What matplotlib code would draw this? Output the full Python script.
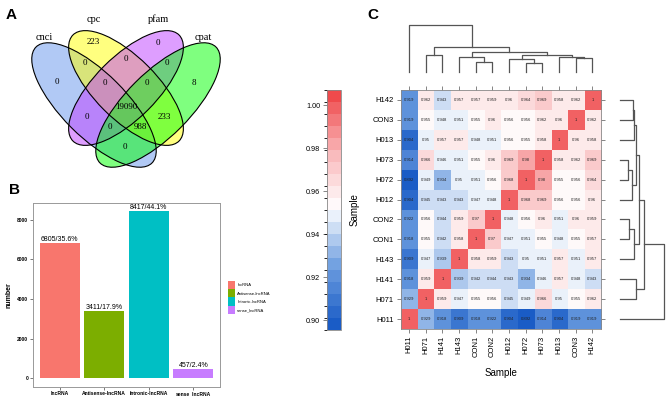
import numpy as np
import matplotlib
matplotlib.use("Agg")
import matplotlib.pyplot as plt
from matplotlib.patches import Ellipse, Patch
from matplotlib.colors import LinearSegmentedColormap, BoundaryNorm

# ---------------- data ----------------
# A: venn
set_names = ["cnci", "cpc", "pfam", "cpat"]
set_colors = ["#6495ED", "#FFFF00", "#BF3EFF", "#00FF00"]
venn_counts = {
    "cnci": 0, "cpc": 223, "pfam": 0, "cpat": 8,
    "cnci&cpc": 0, "cpc&pfam": 0, "pfam&cpat": 0,
    "cnci&cpc&pfam": 0, "cpc&pfam&cpat": 0, "all": 19090,
    "cnci&pfam": 0, "cpc&cpat": 233,
    "cnci&pfam&cpat": 0, "cnci&cpc&cpat": 988, "cnci&cpat": 0,
}

# B: lncRNA classes
classes = ["lncRNA", "Antisense-lncRNA", "Intronic-lncRNA", "sense_lncRNA"]
class_counts = [6805, 3411, 8417, 457]
class_pct = [35.6, 17.9, 44.1, 2.4]
class_colors = ["#F8766D", "#7CAE00", "#00BFC4", "#C77CFF"]

# C: correlation matrix (order of the clustered leaves)
samples = ["H011", "H071", "H141", "H143", "CON1", "CON2",
           "H012", "H072", "H073", "H013", "CON3", "H142"]
corr = [
    [1, .929, .918, .909, .918, .922, .904, .892, .914, .904, .919, .919],
    [.929, 1, .959, .947, .955, .956, .945, .949, .966, .95, .955, .962],
    [.918, .959, 1, .939, .942, .944, .943, .934, .946, .957, .948, .943],
    [.909, .947, .939, 1, .958, .959, .943, .95, .951, .957, .951, .957],
    [.918, .955, .942, .958, 1, .97, .947, .951, .955, .948, .955, .957],
    [.922, .956, .944, .959, .97, 1, .948, .956, .96, .951, .96, .959],
    [.904, .945, .943, .943, .947, .948, 1, .968, .969, .956, .956, .96],
    [.892, .949, .934, .95, .951, .956, .968, 1, .98, .955, .956, .964],
    [.914, .966, .946, .951, .955, .96, .969, .98, 1, .958, .962, .969],
    [.904, .95, .957, .957, .948, .951, .956, .955, .958, 1, .96, .958],
    [.919, .955, .948, .951, .955, .96, .956, .956, .962, .96, 1, .962],
    [.919, .962, .943, .957, .957, .959, .96, .964, .969, .958, .962, 1],
]
# merges (left id, right id, relative height), new ids start at 12
merges = [
    (4, 5, 0.21), (7, 8, 0.19), (10, 11, 0.29), (6, 13, 0.27),
    (9, 14, 0.32), (3, 12, 0.32), (1, 2, 0.36), (15, 16, 0.37),
    (17, 19, 0.43), (18, 20, 0.54), (0, 21, 1.0),
]

W, H = 669, 396
fig = plt.figure(figsize=(W / 100, H / 100), dpi=100)


def px_axes(x0, y0, x1, y1):
    return fig.add_axes([x0 / W, 1 - y1 / H, (x1 - x0) / W, (y1 - y0) / H])


# ---------------- A: venn (axes in figure pixels, y downwards) ----------------
ax = px_axes(0, 0, 250, 200)
ax.set_xlim(0, 250)
ax.set_ylim(200, 0)
ell_center = [(94, 105), (126, 88), (126, 88), (158, 105)]
ell_size = [(164, 64), (150, 62), (150, 62), (164, 64)]
ell_angle = [45, 45, -45, -45]
for c, s, a, col in zip(ell_center, ell_size, ell_angle, set_colors):
    ax.add_patch(Ellipse(c, s[0], s[1], angle=a, facecolor=col, alpha=0.5, lw=0))
for c, s, a in zip(ell_center, ell_size, ell_angle):
    ax.add_patch(Ellipse(c, s[0], s[1], angle=a, facecolor="none", edgecolor="black", lw=0.8))
label_pos = {
    "cnci": (57, 82), "cpc": (93, 42), "pfam": (158, 43), "cpat": (194, 83),
    "cnci&cpc": (85, 63), "cpc&pfam": (126, 59), "pfam&cpat": (167, 63),
    "cnci&cpc&pfam": (105, 83), "cpc&pfam&cpat": (147, 83), "all": (126, 107),
    "cnci&pfam": (87, 117), "cpc&cpat": (164, 117),
    "cnci&pfam&cpat": (110, 127), "cnci&cpc&cpat": (140, 127), "cnci&cpat": (125, 147),
}
for k, v in venn_counts.items():
    x, y = label_pos[k]
    ax.text(x, y, str(v), ha="center", va="center", fontsize=6.5, family="Liberation Serif")
name_pos = [(44, 38), (94, 19), (158, 19), (203, 38)]
for nm, (x, y) in zip(set_names, name_pos):
    ax.text(x, y, nm, ha="center", va="center", fontsize=7.5, family="Liberation Serif")
ax.axis("off")

# ---------------- B: bars ----------------
ax = px_axes(33, 203, 220, 386.6)
xs = np.arange(len(classes))
ax.bar(xs, class_counts, width=0.9, color=class_colors)
for x, v, p in zip(xs, class_counts, class_pct):
    ax.text(x, v, f"{v}/{p}%", ha="center", va="bottom", fontsize=5, family="Liberation Sans")
ax.set_xlim(-0.6, 3.6)
ax.set_ylim(-421, 8838)
ax.set_xticks(xs)
ax.set_xticklabels(classes, fontsize=3.6, fontweight="bold", family="Liberation Sans")
ax.set_yticks([0, 2000, 4000, 6000, 8000])
ax.set_yticklabels(["0", "2000", "4000", "6000", "8000"], fontsize=3.5,
                   fontweight="bold", family="Liberation Sans")
ax.tick_params(length=2, width=0.5, color="#444444", pad=1.5)
ax.set_ylabel("number", fontsize=5, fontweight="bold", family="Liberation Sans", labelpad=3)
for s in ax.spines.values():
    s.set_color("#999999")
    s.set_linewidth(0.7)
handles = [Patch(facecolor=c) for c in class_colors]
fig.legend(handles, classes, loc="upper left", bbox_to_anchor=(226 / W, 1 - 279 / H),
           prop={"family": "Liberation Sans", "size": 3}, frameon=False,
           handlelength=1.7, handleheight=2.65, labelspacing=0, borderpad=0,
           handletextpad=0.5)

# ---------------- C: heatmap ----------------
vmin, vmax = 0.8955, 1.007
mid = (0.952 - vmin) / (vmax - vmin)
cmap = LinearSegmentedColormap.from_list(
    "bwr2", [(0, "#1A5CC6"), (mid * 0.5, "#6E9EE0"), (mid, "#FFFFFF"),
             ((1 + mid) / 2, "#F9B5B7"), (1, "#EF4A4C")])
bounds = np.linspace(vmin, vmax, 21)
norm = BoundaryNorm(bounds, cmap.N)

M = np.array(corr)
n = len(samples)
ax = px_axes(400.7, 90, 600.7, 329)
ax.imshow(M, cmap=cmap, norm=norm, origin="lower", aspect="auto",
          extent=(-0.5, n - 0.5, -0.5, n - 0.5))
for i in range(n):
    for j in range(n):
        ax.text(j, i, f"{M[i, j]:g}", ha="center", va="center", fontsize=3,
                family="Liberation Sans", color="#222222")
ax.set_xticks(range(n))
ax.set_yticks(range(n))
ax.set_xticklabels(samples, rotation=90, fontsize=5.5, family="Liberation Sans")
ax.set_yticklabels(samples, fontsize=5.5, family="Liberation Sans")
ax.tick_params(top=True, right=True, length=3, width=0.5, color="#555555", pad=2)
ax.set_xlabel("Sample", fontsize=7, family="Liberation Sans", labelpad=8)
for s in ax.spines.values():
    s.set_color("#888888")
    s.set_linewidth(0.6)
fig.text(355 / W, 1 - 210 / H, "Sample", rotation=90, ha="center", va="center",
         fontsize=7, family="Liberation Sans")


def dendro_segments(merges, n):
    pos = {i: float(i) for i in range(n)}
    hgt = {i: 0.0 for i in range(n)}
    segs = []
    for k, (a, b, h) in enumerate(merges):
        segs.append(([pos[a], pos[a], pos[b], pos[b]], [hgt[a], h, h, hgt[b]]))
        pos[n + k] = (pos[a] + pos[b]) / 2
        hgt[n + k] = h
    return segs


segs = dendro_segments(merges, n)
# top dendrogram
ax = px_axes(400.7, 25, 600.7, 72)
for xx, yy in segs:
    ax.plot(xx, yy, color="#555555", lw=0.9, clip_on=False)
ax.set_xlim(-0.5, n - 0.5)
ax.set_ylim(0, 1)
ax.axis("off")
# right dendrogram
ax = px_axes(620, 90, 664, 329)
for xx, yy in segs:
    ax.plot(yy, xx, color="#555555", lw=0.9, clip_on=False)
ax.set_ylim(-0.5, n - 0.5)
ax.set_xlim(0, 1)
ax.axis("off")

# colorbar
cax = px_axes(327, 90, 341, 330)
cb = matplotlib.colorbar.ColorbarBase(cax, cmap=cmap, norm=norm, boundaries=bounds,
                                      orientation="vertical")
cb.set_ticks([0.90, 0.92, 0.94, 0.96, 0.98, 1.00])
cb.set_ticklabels(["0.90", "0.92", "0.94", "0.96", "0.98", "1.00"])
cax.yaxis.set_ticks_position("left")
cax.tick_params(labelsize=5.2, length=3, width=0.5, color="#555555", pad=2)
for lab in cax.get_yticklabels():
    lab.set_family("Liberation Sans")
cb.outline.set_edgecolor("#888888")
cb.outline.set_linewidth(0.6)

# panel letters
for letter, (x, y) in zip("ABC", [(11, 15), (14, 190), (373, 15)]):
    fig.text(x / W, 1 - y / H, letter, fontsize=11, fontweight="bold",
             ha="center", va="center", family="Liberation Sans")

fig.savefig("out.png", dpi=100)
